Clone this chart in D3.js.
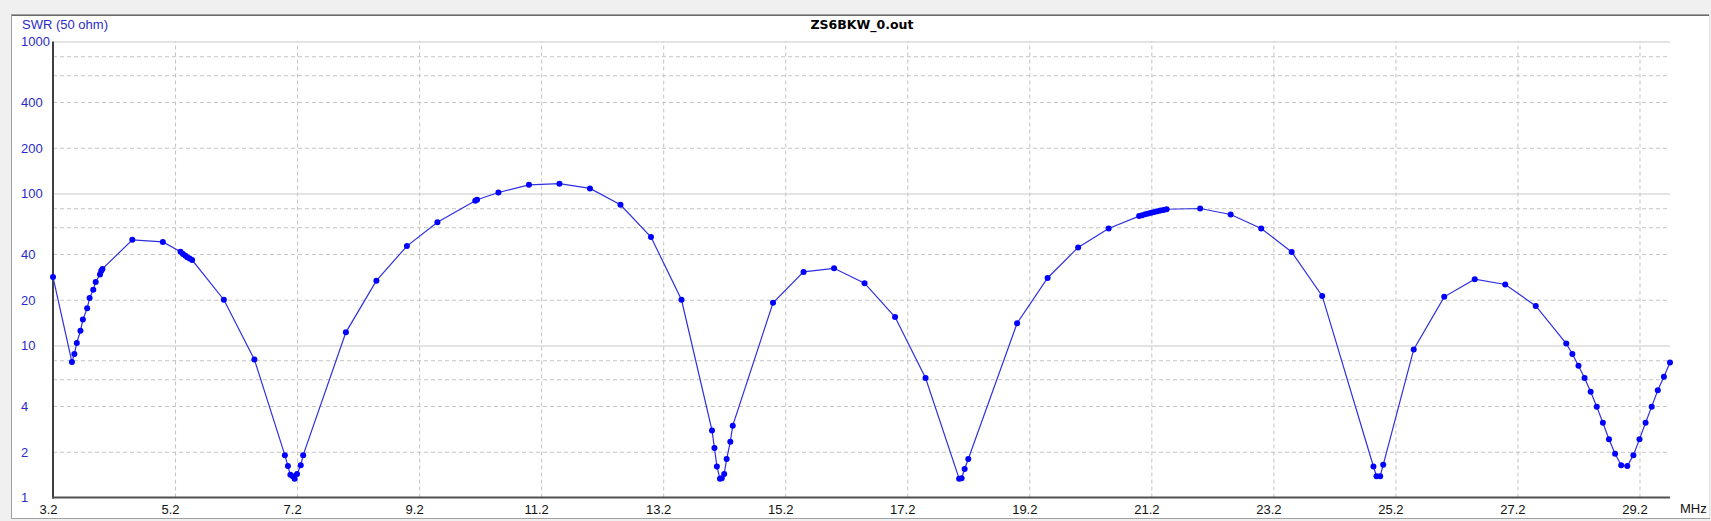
<!DOCTYPE html>
<html>
<head>
<meta charset="utf-8">
<script src="https://cdn.jsdelivr.net/npm/d3@7"></script>
<style>
  body { margin: 0; background: #f0f0f0; }
  text { font-family: "Liberation Sans", Arial, sans-serif; }
</style>
</head>
<body>
<script>
// SWR sweep (MHz, SWR)
const freqs = [
  3.2, 3.51, 3.55, 3.59, 3.65, 3.69, 3.76, 3.80, 3.86, 3.90, 3.97, 3.99, 4.01,
  4.5, 5.0, 5.29, 5.33, 5.37, 5.40, 5.44, 5.48, 6.0, 6.5,
  7.0, 7.05, 7.09, 7.13, 7.16, 7.2, 7.26, 7.3,
  8.0, 8.5, 9.0, 9.5, 10.12, 10.15, 10.5, 11.0, 11.5, 12.0, 12.5, 13.0, 13.5,
  14.0, 14.04, 14.08, 14.13, 14.16, 14.2, 14.24, 14.3, 14.34,
  15.0, 15.5, 16.0, 16.5, 17.0, 17.5, 18.05, 18.09, 18.14, 18.2,
  19.0, 19.5, 20.0, 20.5,
  21.0, 21.05, 21.1, 21.15, 21.2, 21.25, 21.3, 21.35, 21.4, 21.45,
  22.0, 22.5, 23.0, 23.5, 24.0, 24.84, 24.89, 24.95, 25.0,
  25.5, 26.0, 26.5, 27.0, 27.5,
  28.0, 28.1, 28.2, 28.3, 28.4, 28.5, 28.6, 28.7, 28.8, 28.9,
  29.0, 29.1, 29.2, 29.3, 29.4, 29.5, 29.6, 29.7
];
const swr = [
  28.2, 7.8, 8.8, 10.4, 12.5, 14.8, 17.6, 20.5, 23.3, 26.2, 29.3, 30.9, 31.9,
  49.6, 48.0, 41.4, 40.0, 38.9, 38.0, 37.3, 36.5, 20.0, 8.1,
  1.9, 1.61, 1.41, 1.38, 1.33, 1.43, 1.63, 1.9,
  12.2, 26.7, 45.1, 64.6, 89.6, 90.9, 101.5, 114, 116, 108, 84.3, 51.7, 20.0,
  2.76, 2.12, 1.60, 1.33, 1.34, 1.43, 1.79, 2.33, 2.97,
  19.1, 30.5, 32.2, 25.7, 15.4, 6.11, 1.33, 1.34, 1.54, 1.79,
  14.0, 27.8, 44.2, 58.9,
  71.0, 72.0, 73.0, 73.9, 74.8, 75.6, 76.4, 77.2, 78.0, 78.8,
  79.7, 72.8, 58.9, 41.2, 21.2, 1.60, 1.38, 1.38, 1.64,
  9.42, 20.9, 27.3, 25.2, 18.2,
  10.3, 8.79, 7.36, 6.11, 4.97, 3.96, 3.10, 2.42, 1.94, 1.63,
  1.61, 1.90, 2.42, 3.10, 3.96, 5.07, 6.24, 7.74
];
const xTicks = [3.2, 5.2, 7.2, 9.2, 11.2, 13.2, 15.2, 17.2, 19.2, 21.2, 23.2, 25.2, 27.2, 29.2];
const yTicks = [1, 2, 4, 10, 20, 40, 100, 200, 400, 1000];
const yMinor = [2, 4, 6, 8, 20, 40, 60, 80, 200, 400, 600, 800];
const yMajor = [10, 100, 1000];

const width = 1711, height = 521;
const plotL = 53, plotR = 1670, plotT = 41.5, plotB = 497.5;

const svg = d3.select("body").append("svg")
  .attr("width", width)
  .attr("height", height)
  .style("display", "block");

// window panel
svg.append("rect").attr("x", 11).attr("y", 14).attr("width", 1698).attr("height", 504)
  .attr("fill", "#fff");
svg.append("line").attr("x1", 11).attr("x2", 1709).attr("y1", 14.5).attr("y2", 14.5).attr("stroke", "#a0a0a0");
svg.append("line").attr("x1", 11).attr("x2", 1709).attr("y1", 15.5).attr("y2", 15.5).attr("stroke", "#696969");
svg.append("line").attr("x1", 11.5).attr("x2", 11.5).attr("y1", 14).attr("y2", 519).attr("stroke", "#a0a0a0");
svg.append("line").attr("x1", 1709.5).attr("x2", 1709.5).attr("y1", 14).attr("y2", 519).attr("stroke", "#e3e3e3");
svg.append("line").attr("x1", 11).attr("x2", 1710).attr("y1", 518.5).attr("y2", 518.5).attr("stroke", "#a0a0a0");

const x = d3.scaleLinear().domain([3.2, 29.7]).range([plotL, plotR]);
const y = d3.scaleLog().domain([1, 1000]).range([plotB, plotT]);

// dashed grid
svg.append("g")
  .attr("transform", `translate(0,${plotB})`)
  .call(d3.axisBottom(x).tickValues(xTicks.slice(1)).tickSize(-(plotB - plotT)).tickFormat(""))
  .call(g => g.select(".domain").remove())
  .call(g => g.selectAll("line").attr("stroke", "#c4c4c4").attr("stroke-dasharray", "4,3"));

svg.append("g")
  .attr("transform", `translate(${plotL},0)`)
  .call(d3.axisLeft(y).tickValues(yMinor).tickSize(-(plotR - plotL)).tickFormat(""))
  .call(g => g.select(".domain").remove())
  .call(g => g.selectAll("line").attr("stroke", "#c4c4c4").attr("stroke-dasharray", "4,3"));

svg.append("g")
  .attr("transform", `translate(${plotL},0)`)
  .call(d3.axisLeft(y).tickValues(yMajor).tickSize(-(plotR - plotL)).tickFormat(""))
  .call(g => g.select(".domain").remove())
  .call(g => g.selectAll("line").attr("stroke", "#c8c8c8"));

// axes
svg.append("line").attr("x1", plotL).attr("x2", plotL).attr("y1", plotT).attr("y2", plotB + 1)
  .attr("stroke", "#404040").attr("stroke-width", 2);
svg.append("line").attr("x1", plotL - 1).attr("x2", plotR).attr("y1", plotB).attr("y2", plotB)
  .attr("stroke", "#505050").attr("stroke-width", 2);

// x labels
svg.append("g")
  .attr("transform", `translate(0,${plotB})`)
  .call(d3.axisBottom(x).tickValues(xTicks).tickSize(0).tickPadding(7).tickFormat(d3.format(".1f")))
  .call(g => g.select(".domain").remove())
  .call(g => g.selectAll("text").attr("x", -5).attr("fill", "#111")
    .style("font-size", "13px").style("font-family", "'Liberation Sans', Arial, sans-serif"));

// y labels
svg.append("g")
  .attr("transform", `translate(${plotL},0)`)
  .call(d3.axisLeft(y).tickValues(yTicks).tickSize(0).tickFormat(d3.format("d")))
  .call(g => g.select(".domain").remove())
  .call(g => g.selectAll("text").attr("x", 21 - plotL).attr("dy", "0.33em")
    .attr("text-anchor", "start").attr("fill", "#2b2bc8")
    .style("font-size", "13px").style("font-family", "'Liberation Sans', Arial, sans-serif"));

svg.append("text").attr("x", 22).attr("y", 29)
  .attr("fill", "#2b2bc8").style("font-size", "13px")
  .text("SWR (50 ohm)");

svg.append("text").attr("x", 1680).attr("y", 513)
  .attr("fill", "#111").style("font-size", "13px")
  .text("MHz");

svg.append("text").attr("x", 862).attr("y", 29)
  .attr("text-anchor", "middle")
  .style("font-family", "'DejaVu Sans', sans-serif")
  .style("font-weight", "bold").style("font-size", "12.5px")
  .text("ZS6BKW_0.out");

// series
const pts = freqs.map((f, i) => [f, swr[i]]);
svg.append("path")
  .datum(pts)
  .attr("fill", "none")
  .attr("stroke", "#2f2fe0")
  .attr("stroke-width", 1.2)
  .attr("d", d3.line().x(d => x(d[0])).y(d => y(d[1])));

svg.append("g").selectAll("circle")
  .data(pts)
  .enter().append("circle")
  .attr("cx", d => x(d[0]))
  .attr("cy", d => y(d[1]))
  .attr("r", 3)
  .attr("fill", "#0000ff");
</script>
</body>
</html>
